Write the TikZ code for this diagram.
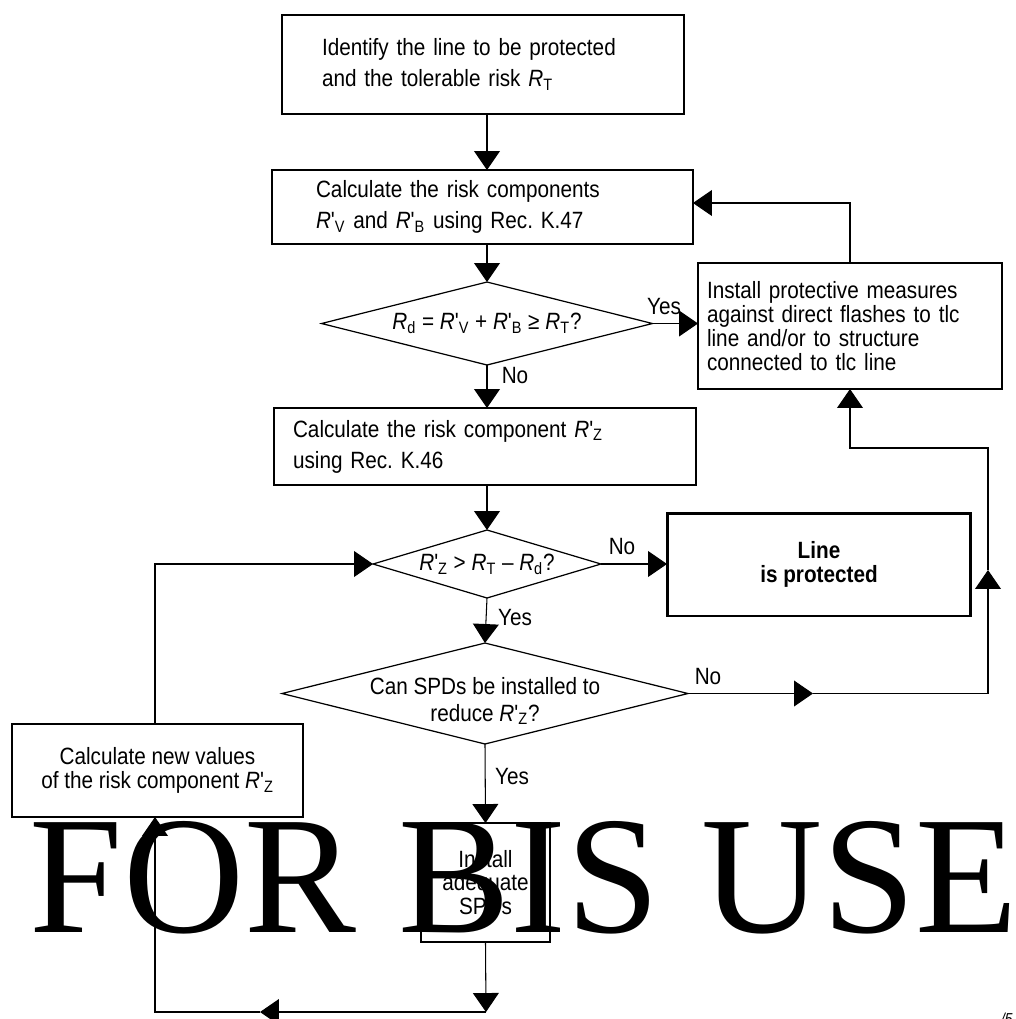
\documentclass[tikz,border=0pt]{standalone}
\usepackage{fontspec}
\setmainfont{Liberation Sans}[Ligatures=TeXOff, FakeStretch=0.88]
\newfontfamily\wmfont{Liberation Serif}
\usetikzlibrary{shapes.geometric,arrows.meta,calc}

% risk symbols: italic R with upright subscript, and the primed variant
\newcommand\Ri[1]{\textit{R}\textsubscript{#1}}
\newcommand\Rq[1]{\textit{R}'\textsubscript{#1}}

\begin{document}
\frenchspacing
\begin{tikzpicture}[x=0.02cm,y=-0.02cm,
  every node/.style={font=\fontsize{13.4pt}{13.6pt}\selectfont, inner sep=0pt, outer sep=0pt},
  box/.style={draw, line width=0.7pt, rectangle},
  dia/.style={draw, line width=0.7pt, diamond},
  arr/.style={line width=0.6pt, -{Triangle[length=10.8pt,width=14.7pt]}},
  ln/.style={line width=0.6pt}]
\useasboundingbox (0,0) rectangle (1016,1019);

% process boxes
\node[box, minimum width=8.04cm, minimum height=1.98cm, text width=6.44cm, align=left] (b1) at (483,64.5)
  {Identify the line to be protected\\[4pt]and the tolerable risk \Ri{T}};
\node[box, minimum width=8.42cm, minimum height=1.48cm, text width=6.66cm, align=left] (b2) at (482.5,207)
  {Calculate the risk components\\[4pt]\Rq{V} and \Rq{B} using Rec. K.47};
\node[box, minimum width=6.08cm, minimum height=2.52cm, text width=5.72cm, align=left] (b3) at (850,326)
  {Install protective measures\\against direct flashes to tlc\\line and/or to structure\\connected to tlc line};
\node[box, minimum width=8.44cm, minimum height=1.54cm, text width=7.68cm, align=left] (b4) at (485,446.5)
  {Calculate the risk component \Rq{Z}\\[4pt]using Rec. K.46};
\node[box, line width=1.7pt, minimum width=6.08cm, minimum height=2.06cm, align=center,
  font=\fontsize{13.4pt}{13.6pt}\selectfont\bfseries] (b5) at (819,564.5)
  {Line\\is protected};
\node[box, minimum width=5.82cm, minimum height=1.86cm, align=center] (bl) at (157.5,770.5)
  {Calculate new values\\of the risk component \Rq{Z}};
\node[box, line width=1.1pt, minimum width=2.58cm, minimum height=2.38cm, align=center] (b6) at (485.5,882.5)
  {Install\\adequate\\SPDs};

% decisions
\node[dia, minimum width=6.62cm, minimum height=1.66cm] (d1) at (487,323.5) {};
\node (d1t) at (d1.center) {\Ri{d} = \Rq{V} + \Rq{B} ≥ \Ri{T}?};
\node[dia, minimum width=4.56cm, minimum height=1.36cm] (d2) at (487,564) {};
\node (d2t) at (d2.center) {\Rq{Z} > \Ri{T} – \Ri{d}?};
\node[dia, minimum width=8.12cm, minimum height=2.02cm] (d3) at (485,693.5) {};
\node[align=center] (d3t) at (485,701) {Can SPDs be installed to\\[1.7pt]reduce \Rq{Z}?};

% branch labels
\node (yes1) at (664,307) {Yes};
\node (no1) at (515,376) {No};
\node (no2) at (622,547) {No};
\node (yes2) at (515,618) {Yes};
\node (no3) at (708,677) {No};
\node (yes3) at (512,777) {Yes};

% main flow
\draw[arr] (b1.south -| d1.center) -- (b2.north -| d1.center);
\draw[arr] (b2.south -| d1.center) -- (d1.north);
\draw[arr] (d1.east) -- (b3.west |- d1.east);
\draw[arr] (d1.south) -- (b4.north -| d1.south);
\draw[arr] (b3.north) |- ($(b2.east)+(0,-4)$);
\draw[arr] (b4.south -| d2.center) -- (d2.north);
\draw[arr] (d2.east) -- (b5.west |- d2.east);
\draw[arr] (d2.south) -- (d3.north);
\draw[arr] (d3.south) -- (b6.north);

% loop back to the protective measures box
\coordinate (r1) at (813,693.5);
\coordinate (r2) at (988,693.5);
\coordinate (r3) at (988,570);
\coordinate (r4) at (988,448);
\draw[arr] (d3.east) -- (r1);
\draw[arr] (r1) -- (r2) -- (r3);
\draw[arr] (r3) -- (r4) -| (b3.south);

% loop back through the recalculation box
\coordinate (m1) at (486,1012);
\coordinate (m2) at (260,1012);
\coordinate (m3) at (155,1012);
\draw[arr] (b6.south) -- (m1);
\draw[arr] (m1) -- (m2);
\draw[arr] (m2) -- (m3) -- (m3 |- bl.south);
\draw[arr] (bl.north -| m3) |- (d2.west);

% overprinted stamp and page mark
\node[font=\wmfont\fontsize{95.5pt}{95.5pt}\selectfont, anchor=base west] (wm) at (30,932) {FOR BIS USE};
\node[font=\fontsize{9pt}{9pt}\selectfont\itshape, anchor=north west] (pg) at (1001,1013) {/5};
\end{tikzpicture}
\end{document}
